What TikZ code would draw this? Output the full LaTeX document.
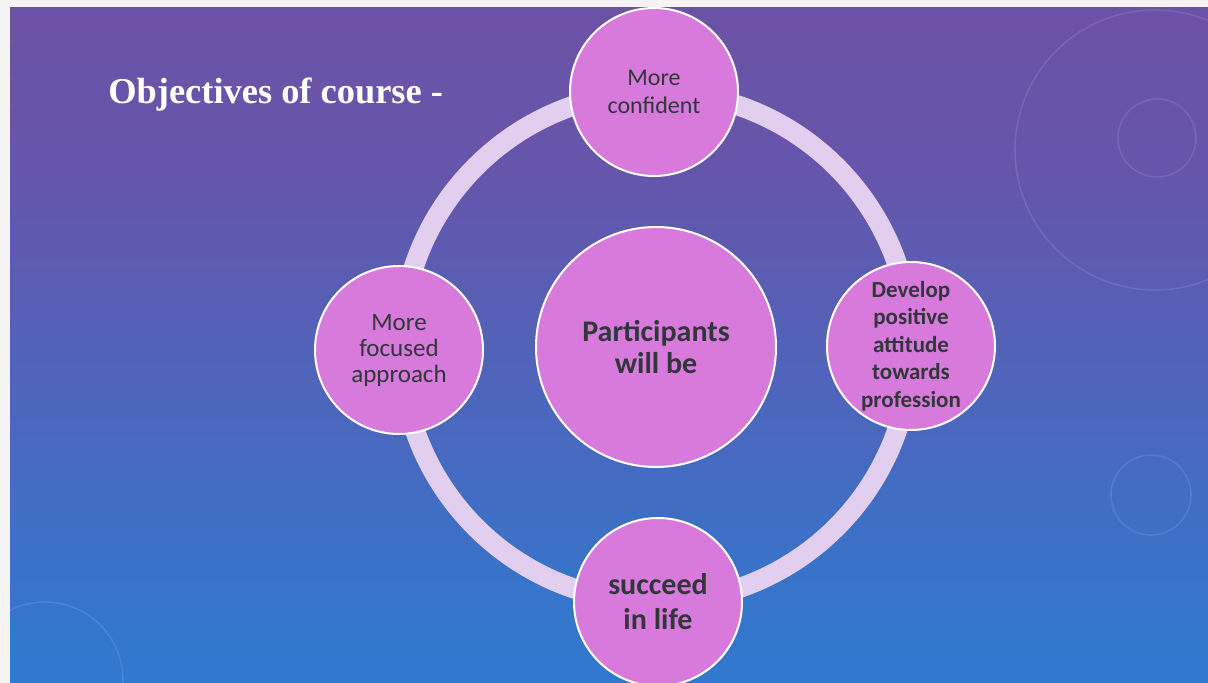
\documentclass[tikz,border=0pt]{standalone}
\usepackage{fontspec}
\setmainfont{Carlito}
\newfontfamily\titlefont{Liberation Serif}
\definecolor{bgA}{HTML}{7C4A98}
\definecolor{bgB}{HTML}{6456AC}
\definecolor{bgC}{HTML}{3476CC}
\definecolor{bgD}{HTML}{2288DA}
\definecolor{orchid}{HTML}{D77ADC}
\definecolor{ringc}{HTML}{E2CEEF}
\definecolor{txt}{HTML}{30363A}
\definecolor{paper}{HTML}{F4F4F4}
\pgfdeclareverticalshading{bgshade}{100bp}{color(0bp)=(bgD); color(30bp)=(bgC); color(62bp)=(bgB); color(100bp)=(bgA)}
\tikzset{
  bubble/.style={circle, fill=orchid, draw=white, line width=1pt, text=txt, align=center, inner sep=0pt, minimum size=84pt},
  hub/.style={bubble, minimum size=120pt},
  ringline/.style={draw=ringc, line width=10pt},
  deco/.style={draw=white, draw opacity=0.1, line width=0.8pt},
}
\begin{document}
\begin{tikzpicture}[x=0.5pt,y=-0.5pt]
\useasboundingbox (0,0) rectangle (1208,683);
\fill[paper] (0,0) rectangle (1208,683);
\shade[shading=bgshade] (10,8) rectangle (1208,683);
% decorative faint circles
\begin{scope}
\clip (10,8) rectangle (1208,683);
\draw[deco] (1157,138) circle[radius=39];
\draw[deco] (1155,150) circle[radius=140];
\draw[deco] (1151,495) circle[radius=40];
\draw[deco] (45,680) circle[radius=78];
\end{scope}
% title
\node[anchor=base west, text=white, font=\titlefont\bfseries\fontsize{18.2}{20}\selectfont, inner sep=0pt] (title) at (108,104) {Objectives of course -};
% center and ring
\node[hub, font=\bfseries\fontsize{15}{16}\selectfont] (hub) at (656,347) {Participants\\will be};
\path[ringline] (hub.center) circle[radius=255];
% satellites
\node[bubble, font=\fontsize{12}{14}\selectfont] (top) at (654,92) {More\\confident};
\node[bubble, font=\fontsize{12.5}{13}\selectfont] (left) at (399,350) {More\\focused\\approach};
\node[bubble, font=\bfseries\fontsize{11.5}{13.75}\selectfont] (right) at (911,346) {Develop\\positive\\attitude\\towards\\profession};
\node[bubble, font=\bfseries\fontsize{15}{17.5}\selectfont] (bottom) at (658,602) {succeed\\in life};
\end{tikzpicture}
\end{document}
